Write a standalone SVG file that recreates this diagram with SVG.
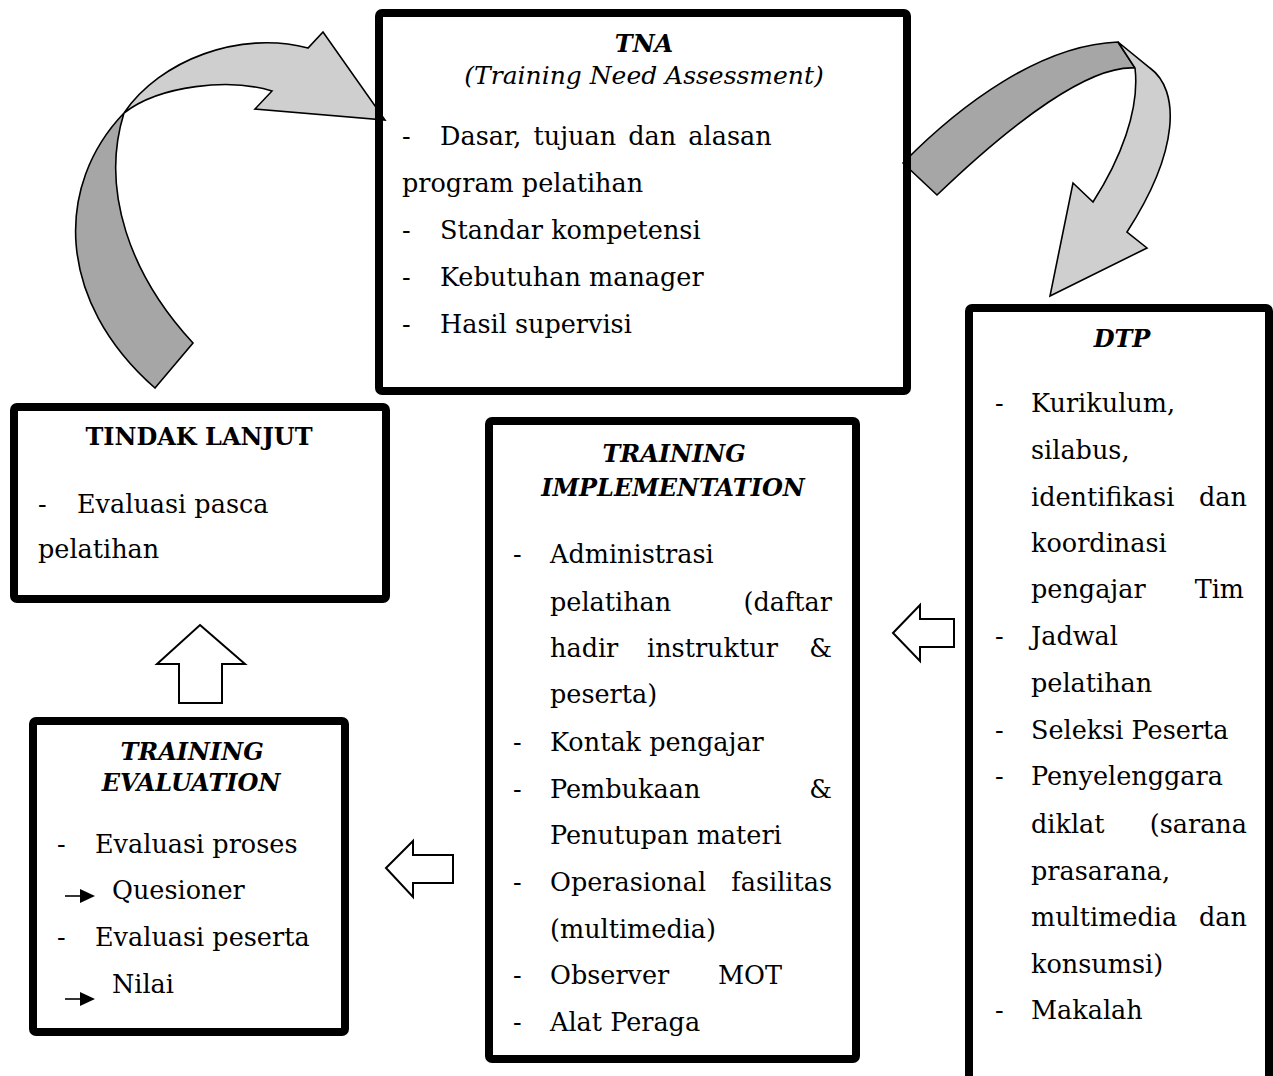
<svg xmlns="http://www.w3.org/2000/svg" width="1273" height="1076" viewBox="0 0 1273 1076">
  <defs>
    <style>
      .box { fill: none; stroke: #000; stroke-width: 8; stroke-linejoin: round; }
      .t { font-family: "DejaVu Serif", "Liberation Serif", serif; font-size: 25.5px; fill: #000; }
      .ttl { font-weight: bold; font-style: italic; font-size: 24px; text-anchor: middle; }
      .ttb { font-weight: bold; font-size: 24px; text-anchor: middle; }
      .it { font-style: italic; font-size: 25px; text-anchor: middle; }
      .end { text-anchor: end; }
      .dark { fill: #a6a6a6; stroke: #000; stroke-width: 1.6; stroke-linejoin: miter; }
      .light { fill: #d0cfd0; stroke: #000; stroke-width: 1.6; stroke-linejoin: miter; }
      .block { fill: #fff; stroke: #000; stroke-width: 2; }
      .pt { stroke: #000; stroke-width: 1.6; }
    </style>
  </defs>
  <rect width="1273" height="1076" fill="#fff"/>

  <g id="connectors">
    <!-- twisted ribbon arrow: TINDAK LANJUT back to TNA -->
    <path class="dark" d="M155,388 L193,343 C130,275 100,190 124,113 C55,185 55,300 155,388 Z"/>
    <path class="light" d="M124,113 C160,60 240,30 308,48 L323,32 L385,120 L255,109 L272,91 C230,78 160,85 124,113 Z"/>
    <!-- twisted ribbon arrow: TNA to DTP -->
    <path class="dark" d="M903,163 C960,105 1040,45 1118,42 L1135,68 C1090,65 1015,120 937,195 Z"/>
    <path class="light" d="M1118,42 L1150,68 C1180,90 1180,150 1127,232 L1147,248 L1050,296 L1073,183 L1093,202 C1120,160 1140,110 1135,68 Z"/>
    <!-- outline block arrows -->
    <path class="block" d="M200,625 L245,664 L222,664 L222,703 L179,703 L179,664 L157,664 Z"/>
    <path class="block" d="M893,633 L920,605 L920,619 L954,619 L954,647 L920,647 L920,661 Z"/>
    <path class="block" d="M386,868 L413,841 L413,855 L453,855 L453,883 L413,883 L413,897 Z"/>
  </g>

  <g id="tna">
    <rect class="box" x="379" y="13" width="528" height="378" rx="3"/>
    <text class="t ttl" x="644" y="52">TNA</text>
    <text class="t it" x="644" y="84">(Training Need Assessment)</text>
    <text class="t" x="402" y="145">-</text>
    <text class="t" x="440" y="145" word-spacing="4">Dasar, tujuan dan alasan</text>
    <text class="t" x="402" y="192">program pelatihan</text>
    <text class="t" x="402" y="239">-</text>
    <text class="t" x="440" y="239">Standar kompetensi</text>
    <text class="t" x="402" y="286">-</text>
    <text class="t" x="440" y="286">Kebutuhan manager</text>
    <text class="t" x="402" y="333">-</text>
    <text class="t" x="440" y="333">Hasil supervisi</text>
  </g>

  <g id="dtp">
    <rect class="box" x="969" y="308" width="300" height="820" rx="3"/>
    <text class="t ttl" x="1122" y="347">DTP</text>
    <text class="t" x="995" y="412">-</text>
    <text class="t" x="1031" y="412">Kurikulum,</text>
    <text class="t" x="1031" y="459">silabus,</text>
    <text class="t" x="1031" y="506">identifikasi</text>
    <text class="t end" x="1247" y="506">dan</text>
    <text class="t" x="1031" y="552">koordinasi</text>
    <text class="t" x="1031" y="598">pengajar</text>
    <text class="t end" x="1244" y="598">Tim</text>
    <text class="t" x="995" y="645">-</text>
    <text class="t" x="1031" y="645">Jadwal</text>
    <text class="t" x="1031" y="692">pelatihan</text>
    <text class="t" x="995" y="739">-</text>
    <text class="t" x="1031" y="739">Seleksi Peserta</text>
    <text class="t" x="995" y="785">-</text>
    <text class="t" x="1031" y="785">Penyelenggara</text>
    <text class="t" x="1031" y="833">diklat</text>
    <text class="t end" x="1247" y="833">(sarana</text>
    <text class="t" x="1031" y="880">prasarana,</text>
    <text class="t" x="1031" y="926">multimedia</text>
    <text class="t end" x="1247" y="926">dan</text>
    <text class="t" x="1031" y="973">konsumsi)</text>
    <text class="t" x="995" y="1019">-</text>
    <text class="t" x="1031" y="1019">Makalah</text>
  </g>

  <g id="tindak-lanjut">
    <rect class="box" x="14" y="407" width="372" height="192" rx="3"/>
    <text class="t ttb" x="199" y="445">TINDAK LANJUT</text>
    <text class="t" x="38" y="513">-</text>
    <text class="t" x="77" y="513">Evaluasi pasca</text>
    <text class="t" x="38" y="558">pelatihan</text>
  </g>

  <g id="training-implementation">
    <rect class="box" x="489" y="421" width="367" height="638" rx="3"/>
    <text class="t ttl" x="674" y="462">TRAINING</text>
    <text class="t ttl" x="673" y="496">IMPLEMENTATION</text>
    <text class="t" x="513" y="563">-</text>
    <text class="t" x="550" y="563">Administrasi</text>
    <text class="t" x="550" y="611">pelatihan</text>
    <text class="t end" x="832" y="611">(daftar</text>
    <text class="t" x="550" y="657">hadir</text>
    <text class="t" x="647" y="657">instruktur</text>
    <text class="t end" x="832" y="657">&amp;</text>
    <text class="t" x="550" y="703">peserta)</text>
    <text class="t" x="513" y="751">-</text>
    <text class="t" x="550" y="751">Kontak pengajar</text>
    <text class="t" x="513" y="798">-</text>
    <text class="t" x="550" y="798">Pembukaan</text>
    <text class="t end" x="832" y="798">&amp;</text>
    <text class="t" x="550" y="844">Penutupan materi</text>
    <text class="t" x="513" y="891">-</text>
    <text class="t" x="550" y="891">Operasional</text>
    <text class="t end" x="832" y="891">fasilitas</text>
    <text class="t" x="550" y="938">(multimedia)</text>
    <text class="t" x="513" y="984">-</text>
    <text class="t" x="550" y="984">Observer</text>
    <text class="t" x="718" y="984">MOT</text>
    <text class="t" x="513" y="1031">-</text>
    <text class="t" x="550" y="1031">Alat Peraga</text>
  </g>

  <g id="training-evaluation">
    <rect class="box" x="33" y="721" width="312" height="311" rx="3"/>
    <text class="t ttl" x="192" y="760">TRAINING</text>
    <text class="t ttl" x="191" y="791">EVALUATION</text>
    <text class="t" x="57" y="853">-</text>
    <text class="t" x="95" y="853">Evaluasi proses</text>
    <line class="pt" x1="65" y1="896" x2="82" y2="896"/>
    <path d="M80,889 L95,896 L80,903 Z" fill="#000"/>
    <text class="t" x="112" y="899">Quesioner</text>
    <text class="t" x="57" y="946">-</text>
    <text class="t" x="95" y="946">Evaluasi peserta</text>
    <line class="pt" x1="65" y1="999" x2="82" y2="999"/>
    <path d="M80,992 L95,999 L80,1006 Z" fill="#000"/>
    <text class="t" x="112" y="993">Nilai</text>
  </g>
</svg>
